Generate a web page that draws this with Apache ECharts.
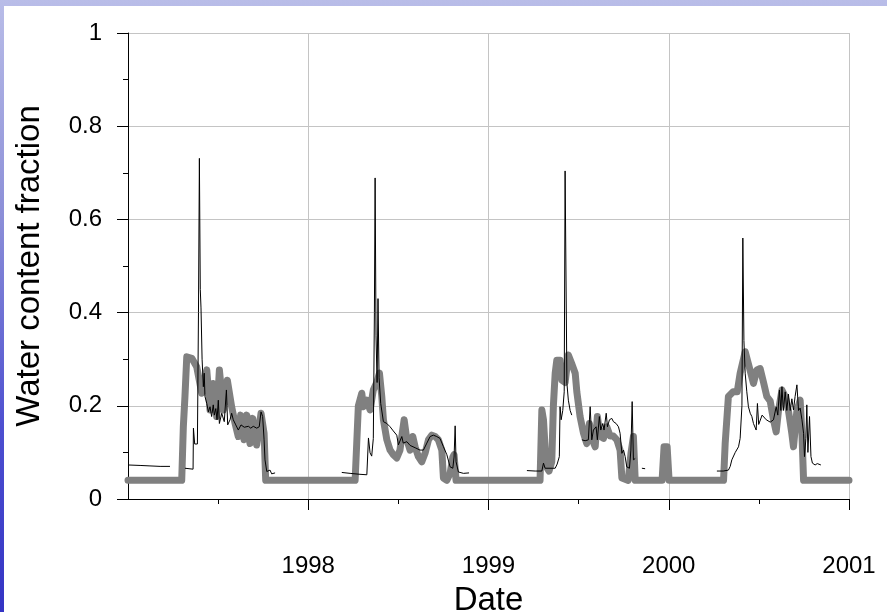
<!DOCTYPE html>
<html>
<head>
<meta charset="utf-8">
<script src="https://cdn.jsdelivr.net/npm/echarts@6/dist/echarts.min.js"></script>
<style>
  html, body { margin: 0; padding: 0; }
  body {
    width: 887px; height: 612px; overflow: hidden; position: relative;
    background: linear-gradient(to bottom, #b9bde8 0%, #8c8fd8 35%, #4d4fd0 70%, #3434c4 100%);
  }
  #panel { position: absolute; left: 4px; top: 6px; right: 0; bottom: 0; background: #fff; }
  #chart { position: absolute; left: 0; top: 0; width: 887px; height: 612px; }
</style>
</head>
<body>
<div id="panel"></div>
<div id="chart"></div>
<script>
// simulated water content (thick grey line), decimal years
const simYears = [
  1997.000, 1997.298, 1997.307, 1997.316, 1997.326, 1997.354, 1997.381, 1997.409, 1997.437, 1997.455,
  1997.473, 1997.492, 1997.507, 1997.529, 1997.551, 1997.575, 1997.594, 1997.612, 1997.625, 1997.644,
  1997.659, 1997.677, 1997.692, 1997.714, 1997.738, 1997.755, 1997.764,
  1998.260, 1998.269, 1998.278, 1998.297, 1998.306, 1998.325, 1998.343, 1998.361, 1998.380, 1998.395,
  1998.408, 1998.417, 1998.436, 1998.454, 1998.472, 1998.491, 1998.509, 1998.519, 1998.532, 1998.547,
  1998.565, 1998.580, 1998.593, 1998.611, 1998.630, 1998.648, 1998.667, 1998.685, 1998.704, 1998.722,
  1998.741, 1998.750, 1998.769, 1998.787, 1998.802, 1998.809, 1998.820,
  1999.286, 1999.296, 1999.305, 1999.320, 1999.336, 1999.351, 1999.360, 1999.370, 1999.379, 1999.397,
  1999.407, 1999.425, 1999.443, 1999.462, 1999.481, 1999.490, 1999.508, 1999.527, 1999.545, 1999.560,
  1999.573, 1999.592, 1999.604, 1999.619, 1999.638, 1999.656, 1999.675, 1999.693, 1999.712, 1999.730,
  1999.740, 1999.775, 1999.791, 1999.804, 1999.814, 1999.963, 1999.974, 1999.991, 2000.002,
  2000.304, 2000.313, 2000.331, 2000.357, 2000.380, 2000.396, 2000.424, 2000.442, 2000.470, 2000.489,
  2000.507, 2000.526, 2000.544, 2000.563, 2000.581, 2000.596, 2000.609, 2000.628, 2000.646, 2000.664,
  2000.683, 2000.692, 2000.711, 2000.729, 2000.739, 2000.748, 2001.000
];
const simValues = [
  0.04, 0.04, 0.155, 0.22, 0.305, 0.302, 0.284, 0.227, 0.277, 0.191,
  0.248, 0.177, 0.277, 0.191, 0.255, 0.198, 0.162, 0.134, 0.180, 0.127,
  0.180, 0.119, 0.173, 0.116, 0.184, 0.141, 0.04,
  0.04, 0.12, 0.20, 0.227, 0.198, 0.212, 0.191, 0.234, 0.25, 0.27,
  0.22, 0.170, 0.127, 0.105, 0.095, 0.088, 0.105, 0.134, 0.170, 0.127,
  0.105, 0.134, 0.112, 0.091, 0.080, 0.098, 0.127, 0.137, 0.134, 0.127,
  0.105, 0.045, 0.04, 0.055, 0.09, 0.095, 0.04,
  0.04, 0.191, 0.17, 0.07, 0.06, 0.08, 0.20, 0.27, 0.298, 0.298,
  0.255, 0.25, 0.309, 0.29, 0.27, 0.23, 0.177, 0.141, 0.119, 0.162,
  0.130, 0.112, 0.177, 0.135, 0.130, 0.155, 0.135, 0.135, 0.127, 0.105,
  0.045, 0.04, 0.10, 0.134, 0.04, 0.04, 0.112, 0.112, 0.04,
  0.04, 0.119, 0.22, 0.23, 0.23, 0.27, 0.316, 0.29, 0.248, 0.277,
  0.28, 0.25, 0.22, 0.21, 0.17, 0.144, 0.19, 0.234, 0.22, 0.19,
  0.14, 0.112, 0.19, 0.212, 0.14, 0.04, 0.04
];

// measured water content (thin black line), null = no record
const obsYears = [
  1997.000, 1997.067, 1997.122, 1997.178, 1997.233, 1997.270,
  1997.316, 1997.361, 1997.363, 1997.370, 1997.385, 1997.391, 1997.396, 1997.401, 1997.405, 1997.411,
  1997.418, 1997.423, 1997.427, 1997.437, 1997.446, 1997.455, 1997.464, 1997.473, 1997.479, 1997.487,
  1997.494, 1997.501, 1997.507, 1997.520, 1997.534, 1997.546, 1997.553, 1997.566, 1997.575, 1997.584,
  1997.598, 1997.612, 1997.627, 1997.645, 1997.668, 1997.681, 1997.695, 1997.714, 1997.728, 1997.738,
  1997.747, 1997.755, 1997.760, 1997.770, 1997.778, 1997.788, 1997.797, 1997.806, 1997.816, 1997.900,
  1998.186, 1998.232, 1998.287, 1998.325, 1998.334, 1998.343, 1998.352, 1998.361, 1998.367, 1998.371,
  1998.376, 1998.382, 1998.387, 1998.393, 1998.402, 1998.417, 1998.436, 1998.454, 1998.472, 1998.491,
  1998.500, 1998.509, 1998.519, 1998.527, 1998.547, 1998.565, 1998.593, 1998.620, 1998.639, 1998.658,
  1998.676, 1998.694, 1998.713, 1998.731, 1998.750, 1998.769, 1998.787, 1998.802, 1998.809, 1998.815,
  1998.820, 1998.833, 1998.861, 1998.892, 1999.000,
  1999.213, 1999.259, 1999.296, 1999.305, 1999.314, 1999.370, 1999.381, 1999.393, 1999.397, 1999.403,
  1999.412, 1999.420, 1999.425, 1999.435, 1999.443, 1999.453, 1999.462, 1999.490,
  1999.518, 1999.536, 1999.554, 1999.564, 1999.573, 1999.582, 1999.597, 1999.604, 1999.615, 1999.623,
  1999.634, 1999.641, 1999.653, 1999.660, 1999.671, 1999.684, 1999.693, 1999.708, 1999.721, 1999.730,
  1999.740, 1999.749, 1999.758, 1999.767, 1999.782, 1999.790, 1999.797, 1999.804, 1999.814, 1999.830,
  1999.851, 1999.869, 2000.000,
  2000.267, 2000.302, 2000.331, 2000.341, 2000.350, 2000.369, 2000.387, 2000.396, 2000.406, 2000.411,
  2000.417, 2000.424, 2000.433, 2000.442, 2000.452, 2000.461, 2000.470, 2000.485, 2000.492, 2000.499,
  2000.518, 2000.541, 2000.563, 2000.581, 2000.596, 2000.605, 2000.614, 2000.622, 2000.628, 2000.636,
  2000.646, 2000.655, 2000.664, 2000.674, 2000.683, 2000.692, 2000.701, 2000.711, 2000.720, 2000.729,
  2000.739, 2000.748, 2000.753, 2000.761, 2000.766, 2000.772, 2000.781, 2000.789, 2000.797, 2000.812,
  2000.824, 2000.833, 2000.844
];
const obsValues = [
  0.073, 0.072, 0.071, 0.070, 0.070, null,
  0.066, 0.064, 0.152, 0.118, 0.118, 0.40, 0.731, 0.45, 0.41, 0.30,
  0.241, 0.27, 0.22, 0.205, 0.187, 0.198, 0.177, 0.202, 0.180, 0.194,
  0.170, 0.212, 0.162, 0.184, 0.166, 0.234, 0.159, 0.170, 0.184, 0.170,
  0.159, 0.148, 0.159, 0.154, 0.156, 0.152, 0.156, 0.152, 0.155, 0.187,
  0.177, 0.127, 0.084, 0.059, 0.055, 0.062, 0.054, 0.058, 0.056, null,
  0.057, 0.055, 0.053, 0.052, 0.131, 0.099, 0.092, 0.13, 0.40, 0.689,
  0.35, 0.25, 0.43, 0.26, 0.205, 0.166, 0.162, 0.155, 0.146, 0.137,
  0.116, 0.112, 0.134, 0.12, 0.123, 0.115, 0.11, 0.105, 0.105, 0.12,
  0.134, 0.137, 0.134, 0.130, 0.112, 0.095, 0.069, 0.066, 0.09, 0.157,
  0.08, 0.058, 0.055, 0.056, null,
  0.061, 0.060, 0.060, 0.077, 0.066, 0.066, 0.075, 0.091, 0.198, 0.17,
  0.19, 0.23, 0.704, 0.248, 0.212, 0.19, 0.180, null,
  0.127, 0.125, 0.127, 0.198, 0.127, 0.148, 0.155, 0.127, 0.177, 0.148,
  0.162, 0.148, 0.184, 0.155, 0.170, 0.173, 0.166, 0.162, 0.155, 0.141,
  0.098, 0.105, 0.091, 0.069, 0.066, 0.105, 0.209, 0.084, 0.087, null,
  0.066, 0.065, null,
  0.060, 0.060, 0.062, 0.070, 0.084, 0.100, 0.112, 0.13, 0.20, 0.56,
  0.34, 0.27, 0.23, 0.198, 0.184, 0.177, 0.162, 0.148, 0.205, 0.16,
  0.18, 0.17, 0.165, 0.17, 0.198, 0.18, 0.234, 0.19, 0.241, 0.19,
  0.23, 0.19, 0.225, 0.19, 0.215, 0.191, 0.22, 0.245, 0.19, 0.195,
  0.17, 0.141, 0.091, 0.13, 0.202, 0.10, 0.177, 0.091, 0.077, 0.073,
  0.076, 0.072, 0.073
];

const yearTicks = [1998, 1999, 2000, 2001];

const simData = simYears.map((x, i) => [x, simValues[i]]);
const obsData = obsYears.map((x, i) => [x, obsValues[i] === null ? '-' : obsValues[i]]);

const FONT = '"Liberation Sans", Arial, sans-serif';
const chart = echarts.init(document.getElementById('chart'), null, { width: 887, height: 612 });

chart.setOption({
  backgroundColor: 'transparent',
  animation: false,
  grid: { left: 128, right: 38, top: 33, bottom: 113, containLabel: false, outerBoundsMode: 'none' },
  xAxis: {
    type: 'value',
    min: 1997, max: 2001, interval: 1,
    name: 'Date', nameLocation: 'middle', nameGap: 85,
    nameTextStyle: { fontFamily: FONT, fontSize: 33, color: '#000' },
    axisLine: { lineStyle: { color: '#000', width: 1 } },
    axisTick: { show: true, length: 11, customValues: yearTicks, lineStyle: { color: '#000' } },
    minorTick: { show: true, splitNumber: 2, length: 5, lineStyle: { color: '#000' } },
    axisLabel: {
      margin: 55, fontFamily: FONT, fontSize: 24, color: '#000',
      formatter: v => yearTicks.indexOf(v) >= 0 ? String(v) : ''
    },
    splitLine: { show: true, lineStyle: { color: '#c4c4c4', width: 1 } }
  },
  yAxis: {
    type: 'value',
    min: 0, max: 1, interval: 0.2,
    name: 'Water content fraction', nameLocation: 'middle', nameGap: 82,
    nameTextStyle: { fontFamily: FONT, fontSize: 33, color: '#000' },
    axisLine: { show: true, lineStyle: { color: '#000', width: 1 } },
    axisTick: { show: true, length: 11, lineStyle: { color: '#000' } },
    minorTick: { show: true, splitNumber: 2, length: 5, lineStyle: { color: '#000' } },
    axisLabel: { margin: 26, fontFamily: FONT, fontSize: 24, color: '#000' },
    splitLine: { show: true, lineStyle: { color: '#c4c4c4', width: 1 } }
  },
  series: [
    {
      name: 'Simulated', type: 'line', data: simData, showSymbol: false, symbol: 'none',
      lineStyle: { color: '#808080', width: 7, join: 'round', cap: 'round' },
      z: 2
    },
    {
      name: 'Measured', type: 'line', data: obsData, showSymbol: false, symbol: 'none',
      connectNulls: false,
      lineStyle: { color: '#000', width: 1 },
      z: 3
    }
  ]
});
</script>
</body>
</html>
